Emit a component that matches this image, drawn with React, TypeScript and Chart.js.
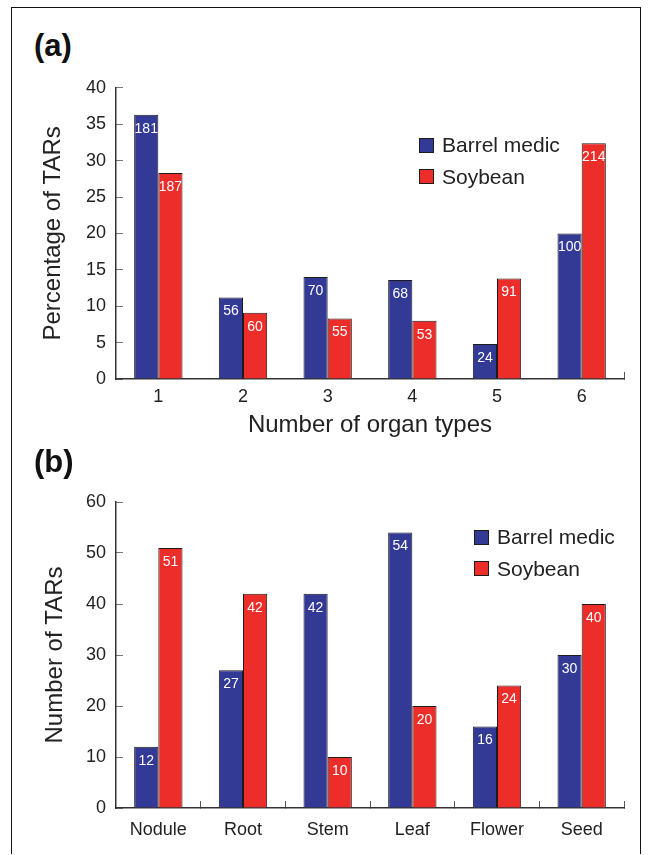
import React, { useEffect, useRef } from 'react';
import { Chart, registerables } from 'chart.js';

Chart.register(...registerables);

// ---- Data ----
const organTypeCategories = ['1', '2', '3', '4', '5', '6'];
const medicPercent = [36.3, 11.2, 14.0, 13.6, 4.8, 20.0];
const soyPercent = [28.3, 9.1, 8.3, 8.0, 13.8, 32.4];
const medicCounts = [181, 56, 70, 68, 24, 100];
const soyCounts = [187, 60, 55, 53, 91, 214];

const organCategories = ['Nodule', 'Root', 'Stem', 'Leaf', 'Flower', 'Seed'];
const medicOrgan = [12, 27, 42, 54, 16, 30];
const soyOrgan = [51, 42, 10, 20, 24, 40];

const seriesNames = ['Barrel medic', 'Soybean'];
const seriesColors = ['#333a96', '#ed2d2a'];

const FONT = '"Liberation Sans", Arial, Helvetica, sans-serif';

const barLabelPlugin = {
  id: 'barLabels',
  afterDatasetsDraw(chart: any) {
    const { ctx } = chart;
    ctx.save();
    ctx.font = '14px ' + FONT;
    ctx.fillStyle = '#ffffff';
    ctx.textAlign = 'center';
    ctx.textBaseline = 'middle';
    chart.data.datasets.forEach((ds: any, di: number) => {
      const meta = chart.getDatasetMeta(di);
      meta.data.forEach((el: any, i: number) => {
        const txt = ds.countLabels ? ds.countLabels[i] : ds.data[i];
        ctx.fillText(String(txt), el.x, el.y + 14);
      });
    });
    ctx.restore();
  },
};

type PanelProps = {
  top: number;
  height: number;
  labels: string[];
  series: number[][];
  counts?: number[][];
  yMax: number;
  yStep: number;
  yTitle: string;
  yTitlePad: number;
  xTitle?: string;
  xTitlePadBottom?: number;
  chartTop: number;
  xHeight: number;
  xTickPad: number;
  innerXTicks: boolean;
};

function BarPanel(p: PanelProps) {
  const ref = useRef<HTMLCanvasElement | null>(null);
  useEffect(() => {
    if (!ref.current) return;
    const chart = new Chart(ref.current, {
      type: 'bar',
      data: {
        labels: p.labels,
        datasets: p.series.map((d, i) => ({
          label: seriesNames[i],
          data: d,
          countLabels: p.counts ? p.counts[i] : undefined,
          backgroundColor: seriesColors[i],
          borderColor: '#1c1c1c',
          borderWidth: 1,
          categoryPercentage: 0.571,
          barPercentage: 1.0,
        })) as any,
      },
      options: {
        responsive: false,
        animation: false,
        devicePixelRatio: 1,
        layout: { padding: { left: 0, right: 27, top: p.chartTop, bottom: 0 } },
        plugins: {
          legend: { display: false },
          tooltip: { enabled: false },
        },
        scales: {
          x: {
            grid: {
              display: true,
              drawOnChartArea: false,
              drawTicks: true,
              tickLength: -7,
              lineWidth: 1,
              color: (ctx: any) =>
                p.innerXTicks || ctx.type === 'scale' ? '#555555' : 'rgba(0,0,0,0)',
            },
            border: { display: true, color: '#333333', width: 1.5 },
            ticks: {
              color: '#222222',
              font: { family: FONT, size: 18 },
              padding: p.xTickPad,
              maxRotation: 0,
            },
            title: p.xTitle
              ? {
                  display: true,
                  text: p.xTitle,
                  color: '#222222',
                  font: { family: FONT, size: 24 },
                  padding: { top: 0, bottom: p.xTitlePadBottom || 0 },
                }
              : { display: false },
            afterFit: (scale: any) => {
              scale.height = p.xHeight;
            },
          },
          y: {
            min: 0,
            max: p.yMax,
            grid: {
              display: true,
              drawOnChartArea: false,
              drawTicks: true,
              tickLength: -7,
              lineWidth: 1,
              color: '#777777',
            },
            border: { display: true, color: '#333333', width: 1.5 },
            ticks: {
              stepSize: p.yStep,
              color: '#222222',
              font: { family: FONT, size: 18 },
              padding: 17,
            },
            title: {
              display: true,
              text: p.yTitle,
              color: '#222222',
              font: { family: FONT, size: 24 },
              padding: { top: p.yTitlePad, bottom: 0 },
            },
            afterFit: (scale: any) => {
              scale.width = 116;
            },
          },
        },
      } as any,
      plugins: [barLabelPlugin],
    });
    return () => chart.destroy();
  }, []);
  return (
    <canvas
      ref={ref}
      width={651}
      height={p.height}
      style={{ position: 'absolute', left: 0, top: p.top, width: 651, height: p.height }}
    />
  );
}

function Legend({ left, top, gap }: { left: number; top: number; gap: number }) {
  return (
    <div style={{ position: 'absolute', left, top }}>
      {seriesNames.map((n, i) => (
        <div
          key={n}
          style={{
            position: 'absolute',
            left: 0,
            top: i * gap,
            height: 14,
            display: 'flex',
            alignItems: 'center',
            whiteSpace: 'nowrap',
          }}
        >
          <div
            style={{
              width: 13,
              height: 13,
              background: seriesColors[i],
              border: '1px solid #1c1c1c',
              boxSizing: 'content-box',
            }}
          />
          <span
            style={{
              marginLeft: 8,
              fontFamily: FONT,
              fontSize: 21,
              color: '#222222',
              lineHeight: '14px',
            }}
          >
            {n}
          </span>
        </div>
      ))}
    </div>
  );
}

export default function App() {
  return (
    <div style={{ position: 'absolute', left: 0, top: 0, width: 651, height: 855, overflow: 'hidden' }}>
      <div
        style={{
          position: 'absolute',
          left: 11,
          top: 7,
          width: 628,
          height: 846,
          borderTop: '1.5px solid #111',
          borderLeft: '1.5px solid #111',
          borderRight: '1.5px solid #111',
        }}
      />
      <div
        style={{
          position: 'absolute',
          left: 34,
          top: 26,
          fontFamily: FONT,
          fontWeight: 'bold',
          fontSize: 31,
          lineHeight: '40px',
          color: '#111',
        }}
      >
        (a)
      </div>
      <BarPanel
        top={60}
        height={390}
        labels={organTypeCategories}
        series={[medicPercent, soyPercent]}
        counts={[medicCounts, soyCounts]}
        yMax={40}
        yStep={5}
        yTitle="Percentage of TARs"
        yTitlePad={38.6}
        xTitle="Number of organ types"
        xTitlePadBottom={10.6}
        chartTop={27}
        xHeight={71}
        xTickPad={14}
        innerXTicks={false}
      />
      <Legend left={419} top={138} gap={31.5} />
      <div
        style={{
          position: 'absolute',
          left: 34,
          top: 442,
          fontFamily: FONT,
          fontWeight: 'bold',
          fontSize: 31,
          lineHeight: '40px',
          color: '#111',
        }}
      >
        (b)
      </div>
      <BarPanel
        top={460}
        height={395}
        labels={organCategories}
        series={[medicOrgan, soyOrgan]}
        yMax={60}
        yStep={10}
        yTitle="Number of TARs"
        yTitlePad={40.6}
        chartTop={42}
        xHeight={47}
        xTickPad={18}
        innerXTicks={true}
      />
      <Legend left={474} top={530} gap={31.7} />
    </div>
  );
}
